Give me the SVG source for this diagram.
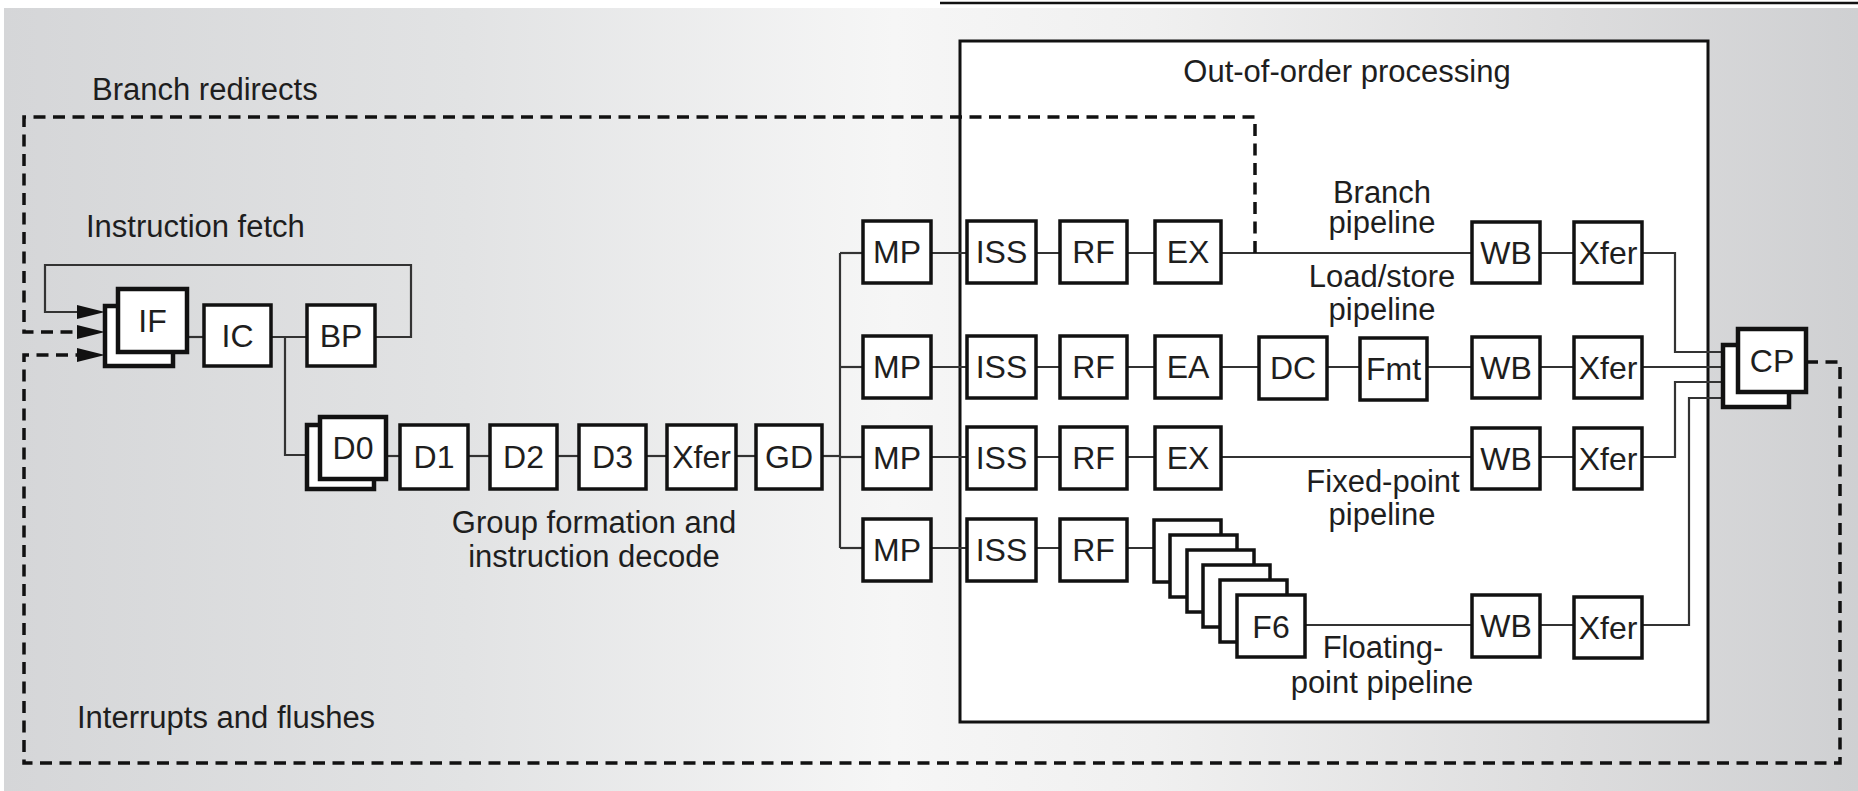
<svg xmlns="http://www.w3.org/2000/svg" width="1858" height="791" viewBox="0 0 1858 791">
  <defs>
    <linearGradient id="panel" x1="0" y1="0" x2="1" y2="0">
      <stop offset="0" stop-color="#d5d6d8"/>
      <stop offset="0.25" stop-color="#e2e3e4"/>
      <stop offset="0.48" stop-color="#f6f6f6"/>
      <stop offset="0.62" stop-color="#f0f0f0"/>
      <stop offset="0.85" stop-color="#dcdcdd"/>
      <stop offset="1" stop-color="#cfd0d2"/>
    </linearGradient>
    <marker id="head" markerUnits="userSpaceOnUse" markerWidth="30" markerHeight="14" refX="0" refY="7" orient="auto">
      <path d="M0,0 L28,7 L0,14 z" fill="#111"/>
    </marker>
    <style>
      .box { fill: #fff; stroke: #111; stroke-width: 3.5; }
      .stack { fill: #fff; stroke: #111; stroke-width: 4.5; }
      .wire { fill: none; stroke: #333; stroke-width: 2.2; }
      .dash { fill: none; stroke: #111; stroke-width: 3.5; stroke-dasharray: 12 7.5; }
      .frame { fill: #fff; stroke: #111; stroke-width: 3; }
      text { font-family: "Liberation Sans", Arial, Helvetica, sans-serif; fill: #1e1e1e; }
      .node { font-size: 32px; text-anchor: middle; }
      .lbl { font-size: 31px; }
      .mid { text-anchor: middle; }
    </style>
  </defs>

  <!-- page backdrop -->
  <rect x="0" y="0" width="1858" height="791" fill="#fff"/>
  <rect x="4" y="8" width="1854" height="783" fill="url(#panel)"/>
  <line x1="940" y1="3" x2="1858" y2="3" stroke="#111" stroke-width="2.5"/>

  <!-- out-of-order region -->
  <g id="ooo-region">
    <rect class="frame" x="960" y="41" width="748" height="681"/>
    <text class="lbl mid" x="1347" y="82">Out-of-order processing</text>
  </g>

  <!-- captions -->
  <g id="captions">
    <text class="lbl" x="92" y="100">Branch redirects</text>
    <text class="lbl" x="86" y="237">Instruction fetch</text>
    <text class="lbl mid" x="594" y="533">Group formation and</text>
    <text class="lbl mid" x="594" y="567">instruction decode</text>
    <text class="lbl" x="77" y="728">Interrupts and flushes</text>
    <text class="lbl mid" x="1382" y="203">Branch</text>
    <text class="lbl mid" x="1382" y="233">pipeline</text>
    <text class="lbl mid" x="1382" y="287">Load/store</text>
    <text class="lbl mid" x="1382" y="320">pipeline</text>
    <text class="lbl mid" x="1383" y="492">Fixed-point</text>
    <text class="lbl mid" x="1382" y="525">pipeline</text>
    <text class="lbl mid" x="1383" y="658">Floating-</text>
    <text class="lbl mid" x="1382" y="693">point pipeline</text>
  </g>

  <!-- connectors -->
  <g id="connectors">
    <!-- fetch loop -->
    <path class="wire" d="M187,337 H204"/>
    <path class="wire" d="M271,337 H307"/>
    <path class="wire" d="M375,337 H411 V265 H45 V312 H77" marker-end="url(#head)"/>
    <path class="wire" d="M285,337 V455 H307"/>
    <!-- decode chain -->
    <path class="wire" d="M386,456 H400"/>
    <path class="wire" d="M468,456 H490"/>
    <path class="wire" d="M557,456 H579"/>
    <path class="wire" d="M646,456 H667"/>
    <path class="wire" d="M736,456 H756"/>
    <path class="wire" d="M822,456 H840"/>
    <!-- dispatch fan-out -->
    <path class="wire" d="M840,253 V548"/>
    <path class="wire" d="M840,253 H863"/>
    <path class="wire" d="M840,367 H863"/>
    <path class="wire" d="M840,457 H863"/>
    <path class="wire" d="M840,548 H863"/>
    <!-- branch pipeline -->
    <path class="wire" d="M931,253 H967 M1036,253 H1060 M1127,253 H1155 M1221,253 H1472 M1540,253 H1574"/>
    <path class="wire" d="M1642,253 H1675 V352 H1723"/>
    <!-- load/store pipeline -->
    <path class="wire" d="M931,367 H967 M1036,367 H1060 M1127,367 H1155 M1221,367 H1259 M1327,367 H1360 M1427,367 H1472 M1540,367 H1574"/>
    <path class="wire" d="M1642,367 H1723"/>
    <!-- fixed-point pipeline -->
    <path class="wire" d="M931,457 H967 M1036,457 H1060 M1127,457 H1155 M1221,457 H1472 M1540,457 H1574"/>
    <path class="wire" d="M1642,457 H1675 V382 H1723"/>
    <!-- floating-point pipeline -->
    <path class="wire" d="M931,548 H967 M1036,548 H1060 M1127,548 H1154"/>
    <path class="wire" d="M1305,625 H1472 M1540,625 H1574"/>
    <path class="wire" d="M1642,625 H1689 V398 H1723"/>
    <!-- branch redirect -->
    <path class="dash" d="M1255,253 V117 H24 V332 H77" marker-end="url(#head)"/>
    <!-- interrupts and flushes -->
    <path class="dash" d="M1806,362 H1840 V763 H24 V355 H77" marker-end="url(#head)"/>
  </g>

  <!-- instruction fetch -->
  <g id="node-IF">
    <rect class="stack" x="105" y="306" width="68" height="60"/>
    <rect class="stack" x="118" y="289" width="69" height="63"/>
    <text class="node" x="152.5" y="332">IF</text>
  </g>
  <g id="node-IC">
    <rect class="box" x="204" y="305" width="67" height="61"/>
    <text class="node" x="237.5" y="347">IC</text>
  </g>
  <g id="node-BP">
    <rect class="box" x="307" y="305" width="68" height="61"/>
    <text class="node" x="341" y="347">BP</text>
  </g>

  <!-- decode -->
  <g id="node-D0">
    <rect class="stack" x="307" y="425" width="67" height="64"/>
    <rect class="stack" x="320" y="417" width="66" height="62"/>
    <text class="node" x="353" y="459">D0</text>
  </g>
  <g id="node-D1">
    <rect class="box" x="400" y="425" width="68" height="64"/>
    <text class="node" x="434" y="468">D1</text>
  </g>
  <g id="node-D2">
    <rect class="box" x="490" y="425" width="67" height="64"/>
    <text class="node" x="523.5" y="468">D2</text>
  </g>
  <g id="node-D3">
    <rect class="box" x="579" y="425" width="67" height="64"/>
    <text class="node" x="612.5" y="468">D3</text>
  </g>
  <g id="node-Xfer-decode">
    <rect class="box" x="667" y="425" width="69" height="64"/>
    <text class="node" x="701.5" y="468">Xfer</text>
  </g>
  <g id="node-GD">
    <rect class="box" x="756" y="425" width="66" height="64"/>
    <text class="node" x="789" y="468">GD</text>
  </g>

  <!-- mapping -->
  <g id="node-MP1"><rect class="box" x="863" y="221" width="68" height="62"/><text class="node" x="897" y="263">MP</text></g>
  <g id="node-MP2"><rect class="box" x="863" y="336" width="68" height="62"/><text class="node" x="897" y="378">MP</text></g>
  <g id="node-MP3"><rect class="box" x="863" y="427" width="68" height="62"/><text class="node" x="897" y="469">MP</text></g>
  <g id="node-MP4"><rect class="box" x="863" y="519" width="68" height="62"/><text class="node" x="897" y="561">MP</text></g>

  <!-- issue -->
  <g id="node-ISS1"><rect class="box" x="967" y="221" width="69" height="62"/><text class="node" x="1001.5" y="263">ISS</text></g>
  <g id="node-ISS2"><rect class="box" x="967" y="336" width="69" height="62"/><text class="node" x="1001.5" y="378">ISS</text></g>
  <g id="node-ISS3"><rect class="box" x="967" y="427" width="69" height="62"/><text class="node" x="1001.5" y="469">ISS</text></g>
  <g id="node-ISS4"><rect class="box" x="967" y="519" width="69" height="62"/><text class="node" x="1001.5" y="561">ISS</text></g>

  <!-- register file -->
  <g id="node-RF1"><rect class="box" x="1060" y="221" width="67" height="62"/><text class="node" x="1093.5" y="263">RF</text></g>
  <g id="node-RF2"><rect class="box" x="1060" y="336" width="67" height="62"/><text class="node" x="1093.5" y="378">RF</text></g>
  <g id="node-RF3"><rect class="box" x="1060" y="427" width="67" height="62"/><text class="node" x="1093.5" y="469">RF</text></g>
  <g id="node-RF4"><rect class="box" x="1060" y="519" width="67" height="62"/><text class="node" x="1093.5" y="561">RF</text></g>

  <!-- execute -->
  <g id="node-EX-branch"><rect class="box" x="1155" y="221" width="66" height="62"/><text class="node" x="1188" y="263">EX</text></g>
  <g id="node-EA"><rect class="box" x="1155" y="336" width="66" height="62"/><text class="node" x="1188" y="378">EA</text></g>
  <g id="node-DC"><rect class="box" x="1259" y="337" width="68" height="62"/><text class="node" x="1293" y="379">DC</text></g>
  <g id="node-Fmt"><rect class="box" x="1360" y="338" width="67" height="62"/><text class="node" x="1393.5" y="380">Fmt</text></g>
  <g id="node-EX-fixed"><rect class="box" x="1155" y="427" width="66" height="62"/><text class="node" x="1188" y="469">EX</text></g>

  <!-- floating-point stages -->
  <g id="node-F-stack">
    <rect class="box" x="1154" y="520" width="67" height="62"/>
    <rect class="box" x="1170" y="535" width="67" height="62"/>
    <rect class="box" x="1187" y="550" width="67" height="62"/>
    <rect class="box" x="1203" y="565" width="67" height="62"/>
    <rect class="box" x="1220" y="580" width="67" height="62"/>
    <rect class="box" x="1237" y="595" width="68" height="62"/>
    <text class="node" x="1271" y="638">F6</text>
  </g>

  <!-- write-back -->
  <g id="node-WB1"><rect class="box" x="1472" y="222" width="68" height="61"/><text class="node" x="1506" y="264">WB</text></g>
  <g id="node-WB2"><rect class="box" x="1472" y="337" width="68" height="61"/><text class="node" x="1506" y="379">WB</text></g>
  <g id="node-WB3"><rect class="box" x="1472" y="428" width="68" height="61"/><text class="node" x="1506" y="470">WB</text></g>
  <g id="node-WB4"><rect class="box" x="1472" y="595" width="68" height="62"/><text class="node" x="1506" y="637">WB</text></g>

  <!-- transfer -->
  <g id="node-Xfer1"><rect class="box" x="1574" y="222" width="68" height="61"/><text class="node" x="1608" y="264">Xfer</text></g>
  <g id="node-Xfer2"><rect class="box" x="1574" y="337" width="68" height="61"/><text class="node" x="1608" y="379">Xfer</text></g>
  <g id="node-Xfer3"><rect class="box" x="1574" y="428" width="68" height="61"/><text class="node" x="1608" y="470">Xfer</text></g>
  <g id="node-Xfer4"><rect class="box" x="1574" y="597" width="68" height="61"/><text class="node" x="1608" y="639">Xfer</text></g>

  <!-- completion -->
  <g id="node-CP">
    <rect class="stack" x="1723" y="345" width="66" height="62"/>
    <rect class="stack" x="1738" y="329" width="68" height="63"/>
    <text class="node" x="1772" y="372">CP</text>
  </g>
</svg>
